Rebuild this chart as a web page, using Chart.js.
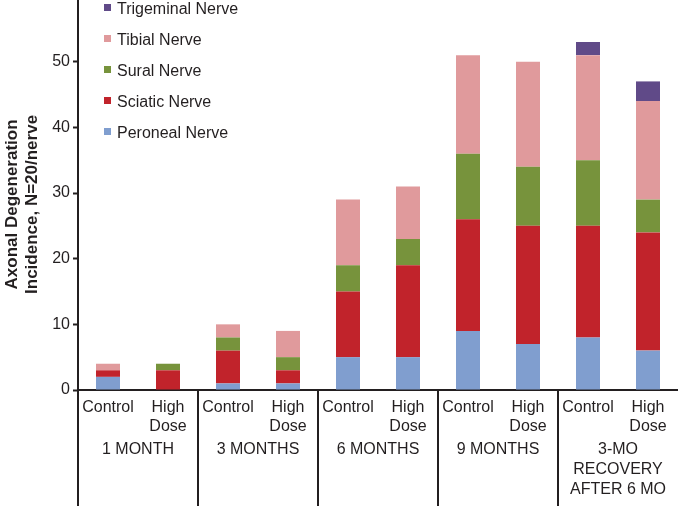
<!DOCTYPE html>
<html>
<head>
<meta charset="utf-8">
<script src="https://cdn.jsdelivr.net/npm/chart.js@4.4.1/dist/chart.umd.min.js"></script>
<style>
  body { margin:0; background:#fff; }
  #wrap { position:relative; width:678px; height:506px; }
  #legend { position:absolute; left:104px; top:-7px; font-family:"Liberation Sans", Arial, sans-serif; font-size:16px; color:#231f20; }
  #legend div { height:31px; line-height:31px; white-space:nowrap; }
  #legend span.box { display:inline-block; width:7px; height:7px; margin-right:6px; vertical-align:middle; position:relative; top:-2px; }
</style>
</head>
<body>
<div id="wrap">
  <canvas id="chart" width="678" height="506"></canvas>
  <div id="legend"></div>
</div>
<script>
// categories
var barLabels = ['Control', ['High', 'Dose'], 'Control', ['High', 'Dose'], 'Control', ['High', 'Dose'], 'Control', ['High', 'Dose'], 'Control', ['High', 'Dose']];
var groupLabels = ['1 MONTH', '3 MONTHS', '6 MONTHS', '9 MONTHS', ['3-MO', 'RECOVERY', 'AFTER 6 MO']];

// series (stack from bottom)
var peroneal   = [2, 0, 1, 1, 5, 5, 9, 7, 8, 6];
var sciatic    = [1, 3, 5, 2, 10, 14, 17, 18, 17, 18];
var sural      = [0, 1, 2, 2, 4, 4, 10, 9, 10, 5];
var tibial     = [1, 0, 2, 4, 10, 8, 15, 16, 16, 15];
var trigeminal = [0, 0, 0, 0, 0, 0, 0, 0, 2, 3];

var ink = '#231f20';
var font = '"Liberation Sans", Arial, sans-serif';

var datasets = [
  {label:'Peroneal Nerve', data:peroneal, backgroundColor:'#809ecf'},
  {label:'Sciatic Nerve', data:sciatic, backgroundColor:'#c1232b'},
  {label:'Sural Nerve', data:sural, backgroundColor:'#77933c'},
  {label:'Tibial Nerve', data:tibial, backgroundColor:'#e09a9c'},
  {label:'Trigeminal Nerve', data:trigeminal, backgroundColor:'#604a88'}
];
datasets.forEach(function(d){
  d.barPercentage = 0.4;
  d.categoryPercentage = 1;
  d.borderWidth = 0;
});

// group separators under the axis
var separators = {
  id:'separators',
  afterDraw:function(chart){
    var s = chart.scales.x2, ctx = chart.ctx;
    var n = groupLabels.length, w = s.width / n;
    ctx.save();
    ctx.strokeStyle = ink;
    ctx.lineWidth = 2;
    for (var i = 0; i < n; i++) {
      var x = Math.round(s.getPixelForValue(i) - w/2);
      ctx.beginPath();
      ctx.moveTo(x, chart.chartArea.bottom);
      ctx.lineTo(x, chart.height);
      ctx.stroke();
    }
    ctx.restore();
  }
};

var chart = new Chart(document.getElementById('chart'), {
  type:'bar',
  data:{ labels:barLabels, datasets:datasets },
  plugins:[separators],
  options:{
    responsive:false,
    animation:false,
    layout:{ padding:0 },
    plugins:{ legend:{display:false}, tooltip:{enabled:false} },
    scales:{
      x:{
        stacked:true,
        weight:0,
        grid:{ drawOnChartArea:false, drawTicks:false },
        border:{ display:true, color:ink, width:2 },
        ticks:{ color:ink, font:{family:font, size:16}, padding:8, maxRotation:0, autoSkip:false },
        afterFit:function(s){ s.height = 48; }
      },
      x2:{
        type:'category',
        labels:groupLabels,
        position:'bottom',
        weight:1,
        grid:{ display:false },
        border:{ display:false },
        ticks:{ color:ink, font:{family:font, size:16, lineHeight:1.25}, padding:-6, maxRotation:0, autoSkip:false },
        afterFit:function(s){ s.height = 68; }
      },
      y:{
        stacked:true,
        min:0,
        max:59.4,
        grid:{ drawOnChartArea:false, drawTicks:true, tickLength:5, color:ink, tickWidth:2 },
        border:{ display:true, color:ink, width:2 },
        ticks:{ stepSize:10, includeBounds:false, color:ink, font:{family:font, size:16}, padding:3 },
        title:{ display:true, text:['Axonal Degeneration    ', 'Incidence, N=20/nerve    '], color:ink, font:{family:font, size:17, weight:'bold', lineHeight:1.15}, padding:{top:3, bottom:0} },
        afterFit:function(s){ s.width = 78; s.paddingTop = 0; }
      }
    }
  }
});

// legend, top entry first
var legend = document.getElementById('legend');
datasets.slice().reverse().forEach(function(d){
  var row = document.createElement('div');
  var box = document.createElement('span');
  box.className = 'box';
  box.style.background = d.backgroundColor;
  row.appendChild(box);
  row.appendChild(document.createTextNode(d.label));
  legend.appendChild(row);
});
</script>
</body>
</html>
